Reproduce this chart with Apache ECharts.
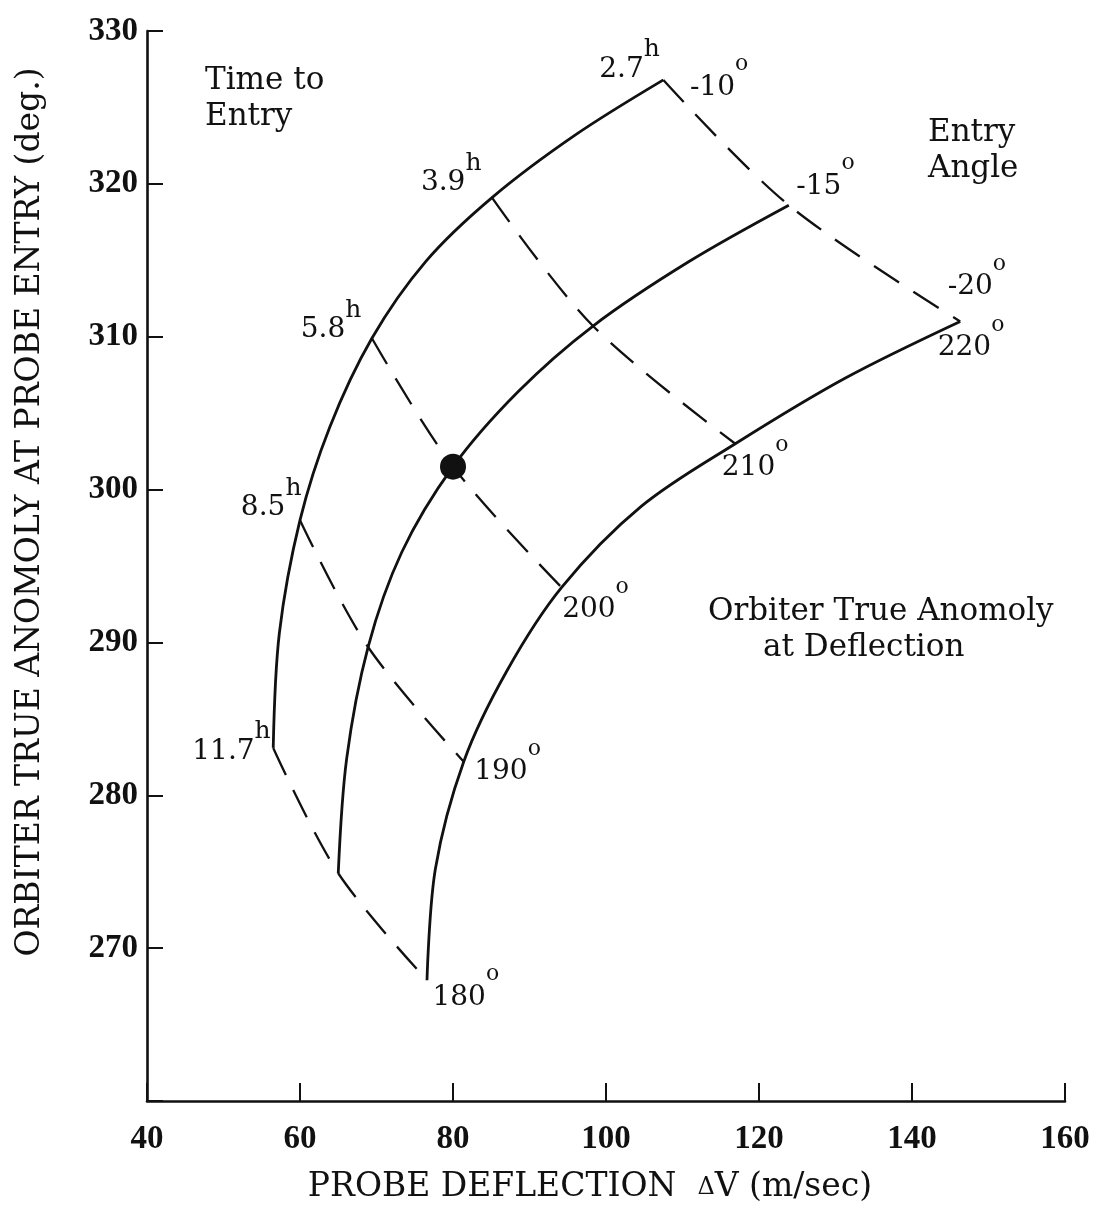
<!DOCTYPE html>
<html>
<head>
<meta charset="utf-8">
<script src="https://cdn.jsdelivr.net/npm/echarts@6/dist/echarts.min.js"></script>
<style>
  html, body { margin: 0; background: #fff; }
  #chart { width: 1101px; height: 1215px; }
</style>
</head>
<body>
<div id="chart"></div>
<script>
// entry angle curves: [probe deflection dV (m/s), orbiter true anomaly at entry (deg)]
const curveM10 = [
  [56.5, 283.1], [57.3, 290.6], [60.0, 298.0], [63.9, 304.1], [69.4, 309.9],
  [76.4, 314.9], [85.1, 319.1], [96.0, 323.2], [107.5, 326.8]
];
const curveM15 = [
  [65.0, 274.9], [66.1, 282.4], [68.9, 289.7], [73.3, 295.9], [80.0, 301.5],
  [88.5, 306.4], [98.3, 310.7], [110.8, 314.9], [123.9, 318.6]
];
const curveM20 = [
  [76.6, 267.9], [77.7, 275.2], [81.4, 282.2], [87.0, 288.1], [94.2, 293.6],
  [104.6, 298.9], [116.9, 303.0], [131.3, 307.3], [146.3, 311.0]
];

// constant orbiter true anomaly at deflection (points on the -10, -15, -20 curves)
const line180 = [[56.5, 283.1], [65.0, 274.9], [76.6, 267.9]];
const line190 = [[60.0, 298.0], [68.9, 289.7], [81.4, 282.2]];
const line200 = [[69.4, 309.9], [80.0, 301.5], [94.2, 293.6]];
const line210 = [[85.1, 319.1], [98.3, 310.7], [116.9, 303.0]];
const line220 = [[107.5, 326.8], [123.9, 318.6], [146.3, 311.0]];

const anomalies = ['180', '190', '200', '210', '220'];
const entryTimes = ['11.7', '8.5', '5.8', '3.9', '2.7'];
const entryAngles = ['-10', '-15', '-20'];
const nominalPoint = [[80.0, 301.5]];

const FONT = "'DejaVu Serif', serif";
const INK = '#111';

const anomalyLines = [line180, line190, line200, line210, line220];
const curves = [curveM10, curveM15, curveM20];

// label placement (pixel offsets from the point)
const timeOffsets = [[-2, 18], [2, 2], [-10, 6], [-10, 0], [-3, 4]];
const anomalyOffsets = [[6, 4], [11, -3], [1, 9], [-13, 11], [-22, 13]];
const angleOffsets = [[27, -6], [8, -32], [-12, -48]];

const supRich = {
  b: { fontFamily: FONT, fontSize: 28, lineHeight: 28, color: INK, verticalAlign: 'bottom' },
  h: { fontFamily: FONT, fontSize: 25, lineHeight: 25, color: INK, padding: [0, 0, 21, 0], verticalAlign: 'bottom' },
  o: { fontFamily: FONT, fontSize: 22, lineHeight: 22, color: INK, padding: [0, 0, 26, 0], verticalAlign: 'bottom' }
};

function labelPoints(points, offsets, align, vAlign) {
  return points.map((p, i) => ({
    value: p,
    label: { position: offsets[i], align: align, verticalAlign: vAlign }
  }));
}

function labelSeries(points, offsets, align, vAlign, formatter) {
  return {
    type: 'scatter', symbolSize: 1, silent: true,
    itemStyle: { color: 'transparent' },
    data: labelPoints(points, offsets, align, vAlign),
    label: {
      show: true, color: INK, opacity: 1, textBorderWidth: 0,
      rich: supRich, formatter: formatter
    }
  };
}

const series = [];
curves.forEach((c) => {
  series.push({
    type: 'line', data: c, smooth: 0.33, symbol: 'none', silent: true,
    lineStyle: { color: INK, width: 2.8 }
  });
});
anomalyLines.forEach((l) => {
  series.push({
    type: 'line', data: l, smooth: 0.33, symbol: 'none', silent: true,
    lineStyle: { color: INK, width: 2.3, type: [30, 17] }
  });
});
series.push({
  type: 'scatter', data: nominalPoint, symbolSize: 26, silent: true,
  itemStyle: { color: INK, opacity: 1 }
});
// time to entry labels
series.push(labelSeries(anomalyLines.map((l) => l[0]), timeOffsets, 'right', 'bottom',
  (p) => `{b|${entryTimes[p.dataIndex]}}{h|h}`));
// orbiter true anomaly labels
series.push(labelSeries(anomalyLines.map((l) => l[2]), anomalyOffsets, 'left', 'top',
  (p) => `{b|${anomalies[p.dataIndex]}}{o|o}`));
// entry angle labels
series.push(labelSeries(curves.map((c) => c[c.length - 1]), angleOffsets, 'left', 'top',
  (p) => `{b|${entryAngles[p.dataIndex]}}{o|o}`));

const textStyle = { font: `31px ${FONT}`, fill: INK, lineHeight: 36 };

const option = {
  animation: false,
  backgroundColor: '#fff',
  grid: { left: 147, right: 36, top: 31, bottom: 114 },
  xAxis: {
    type: 'value', min: 40, max: 160, interval: 20,
    name: '{a|PROBE DEFLECTION  }{d|Δ}{a|V (m/sec)}',
    nameLocation: 'middle', nameGap: 70,
    nameTextStyle: {
      padding: [0, 32, 0, 0],
      rich: {
        a: { fontFamily: FONT, fontSize: 33, color: INK },
        d: { fontFamily: FONT, fontSize: 24, color: INK }
      }
    },
    axisLine: { lineStyle: { color: INK, width: 2.6 } },
    axisTick: { inside: true, length: 18, lineStyle: { color: INK, width: 2 } },
    axisLabel: {
      margin: 22, color: INK, fontFamily: "'Liberation Serif', serif",
      fontWeight: 'bold', fontSize: 33
    },
    splitLine: { show: false }
  },
  yAxis: {
    type: 'value', min: 260, max: 330, interval: 10,
    name: 'ORBITER TRUE ANOMOLY AT PROBE ENTRY (deg.)',
    nameLocation: 'middle', nameGap: 100,
    nameTextStyle: { fontFamily: FONT, fontSize: 33, color: INK, padding: [0, 0, 0, 108] },
    axisLine: { lineStyle: { color: INK, width: 2.6 } },
    axisTick: { inside: true, length: 16, lineStyle: { color: INK, width: 2 } },
    axisLabel: {
      margin: 9, color: INK, fontFamily: "'Liberation Serif', serif",
      fontWeight: 'bold', fontSize: 33, padding: [0, 0, 12, 0],
      formatter: (v) => (v === 260 ? '' : String(v))
    },
    splitLine: { show: false }
  },
  graphic: [
    { type: 'text', left: 205, top: 63, style: Object.assign({ text: 'Time to\nEntry' }, textStyle) },
    { type: 'text', left: 928, top: 115, style: Object.assign({ text: 'Entry\nAngle' }, textStyle) },
    { type: 'text', left: 708, top: 594, style: Object.assign({ text: 'Orbiter True Anomoly' }, textStyle) },
    { type: 'text', left: 763, top: 630, style: Object.assign({ text: 'at Deflection' }, textStyle) }
  ],
  series: series
};

const chart = echarts.init(document.getElementById('chart'));
chart.setOption(option);
</script>
</body>
</html>
